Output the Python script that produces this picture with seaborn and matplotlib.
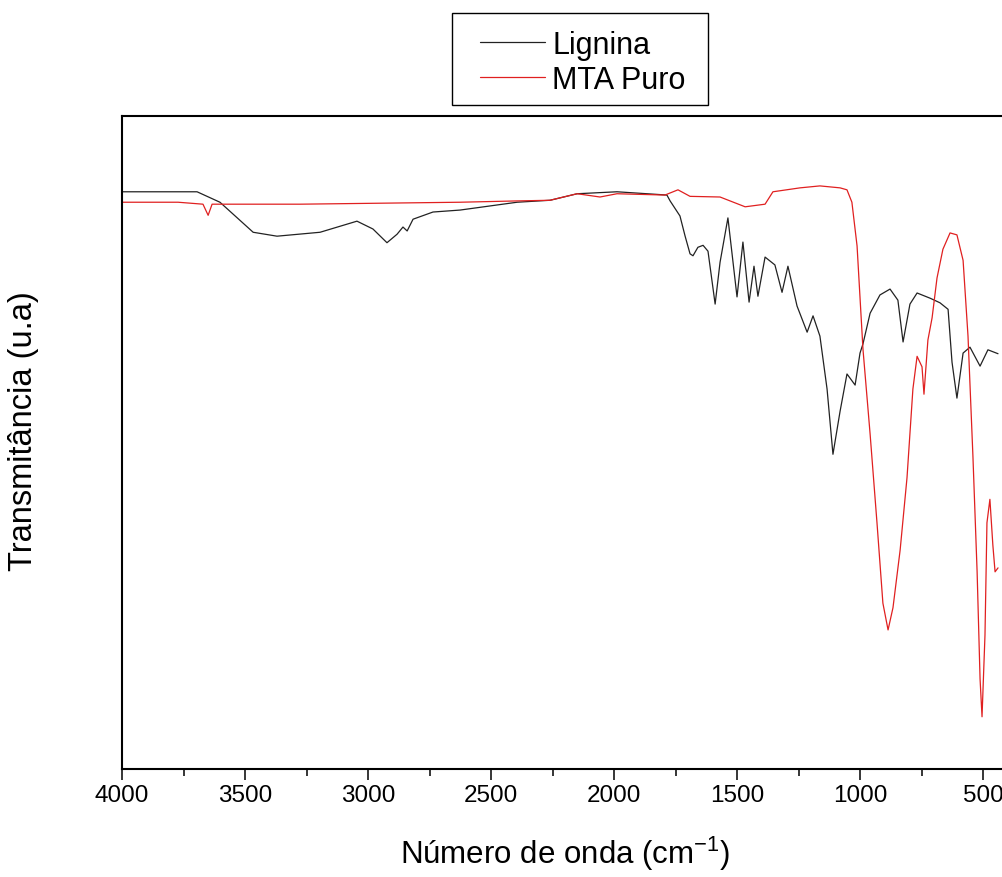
import matplotlib
matplotlib.use("Agg")
import matplotlib.pyplot as plt
from matplotlib.patches import Rectangle
from matplotlib.ticker import MultipleLocator
import numpy as np
import pandas as pd
import seaborn as sns

# Lignina spectrum (wavenumber cm-1, transmittance a.u.)
lig_wn = [4000, 3695, 3602, 3467, 3370, 3195, 3045, 2980, 2923, 2882, 2858, 2841,
          2817, 2736, 2626, 2394, 2260, 2150, 1988, 1785, 1772, 1732, 1711, 1691,
          1679, 1659, 1638, 1618, 1589, 1569, 1537, 1500, 1476, 1451, 1431, 1415,
          1386, 1346, 1317, 1293, 1256, 1215, 1191, 1163, 1134, 1110, 1081, 1053,
          1020, 1000, 988, 959, 919, 878, 846, 825, 797, 768, 715, 675, 642, 626,
          606, 581, 553, 512, 480, 439]
lig_t = [88.4, 88.4, 86.8, 82.2, 81.6, 82.2, 83.9, 82.7, 80.6, 81.9, 83.0, 82.4,
         84.2, 85.3, 85.6, 86.8, 87.1, 88.1, 88.4, 87.9, 87.0, 84.7, 81.6, 78.9,
         78.6, 79.9, 80.2, 79.3, 71.2, 77.6, 84.4, 72.3, 80.7, 71.5, 77.0, 72.4,
         78.4, 77.2, 73.0, 77.0, 70.9, 66.9, 69.4, 66.3, 58.2, 48.2, 54.8, 60.5,
         58.8, 63.7, 65.1, 69.8, 72.6, 73.5, 71.8, 65.4, 71.2, 72.9, 72.1, 71.4, 70.4, 62.3,
         56.8, 63.7, 64.6, 61.7, 64.2, 63.6]

# MTA Puro spectrum
mta_wn = [4000, 3772, 3671, 3650, 3634, 3276, 2626, 2394, 2260, 2150, 2057, 1988,
          1793, 1740, 1691, 1569, 1467, 1386, 1354, 1244, 1163, 1081, 1053, 1033,
          1012, 988, 959, 931, 907, 886, 866, 837, 809, 785, 768, 748, 740, 724,
          707, 687, 663, 634, 606, 581, 561, 541, 524, 512, 504, 492, 484, 472,
          460, 451, 439]
mta_t = [86.8, 86.8, 86.5, 84.8, 86.5, 86.5, 86.8, 87.0, 87.1, 88.1, 87.6, 88.1,
         87.9, 88.7, 87.7, 87.6, 86.1, 86.5, 88.4, 89.0, 89.3, 89.0, 88.7, 86.8,
         80.1, 64.3, 51.3, 37.7, 25.4, 21.3, 24.7, 33.5, 44.6, 58.2, 63.2, 61.6, 57.4, 65.7,
         69.1, 75.2, 79.6, 82.1, 81.8, 77.9, 66.3, 47.9, 30.2, 13.8, 8.0, 20.5, 37.7, 41.3,
         34.3, 30.2, 30.8]

lig = pd.DataFrame({"wn": lig_wn, "t": lig_t})
mta = pd.DataFrame({"wn": mta_wn, "t": mta_t})

sns.set_style("white")
plt.rcParams["font.family"] = ["Liberation Sans", "DejaVu Sans"]
plt.rcParams["text.color"] = "black"
plt.rcParams["axes.labelcolor"] = "black"
plt.rcParams["xtick.color"] = "black"
plt.rcParams["mathtext.default"] = "regular"

fig = plt.figure(figsize=(10.02, 8.78), dpi=100)
ax = fig.add_axes([0.1218, 0.123, 0.8838, 0.7437])

sns.lineplot(data=lig, x="wn", y="t", color="#222222", linewidth=0.9, label="Lignina", ax=ax)
sns.lineplot(data=mta, x="wn", y="t", color="#e02020", linewidth=0.9, label="MTA Puro", ax=ax)

ax.set_xlim(4000, 400)
ax.set_ylim(0, 100)
ax.set_yticks([])
ax.xaxis.set_major_locator(MultipleLocator(500))
ax.xaxis.set_minor_locator(MultipleLocator(250))
ax.tick_params(axis="x", which="major", direction="out", length=8, width=1.1,
               labelsize=17.5, pad=3, bottom=True)
ax.tick_params(axis="x", which="minor", direction="out", length=5, width=1.1, bottom=True)
for s in ["left", "bottom", "top", "right"]:
    ax.spines[s].set_color("black")
    ax.spines[s].set_linewidth(1.5)

ax.set_xlabel("Número de onda (cm$^{-1}$)", fontsize=22.5, labelpad=20)
ax.set_ylabel("Transmitância (u.a)", fontsize=23.5)
ax.yaxis.set_label_coords(-0.0935, 0.519)

# legend entries without frame, box drawn separately (wider than tall padding)
leg = ax.legend(loc="center", bbox_to_anchor=(0.5818, 0.9277), bbox_transform=fig.transFigure,
                fontsize=22, frameon=False, handlelength=2.1, handletextpad=0.25,
                borderpad=0, labelspacing=0.17)
fig.patches.append(Rectangle((0.4511, 0.8793), 0.2555, 0.1048, transform=fig.transFigure,
                             fill=False, edgecolor="black", linewidth=1.0))

fig.savefig("out.png", dpi=100)
